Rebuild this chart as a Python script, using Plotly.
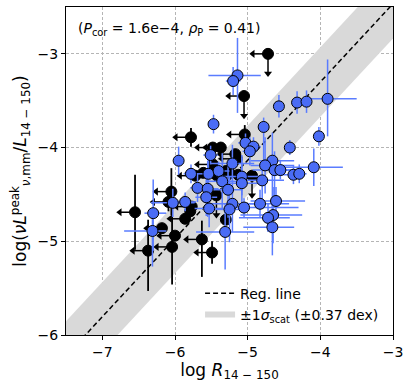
import plotly.graph_objects as go

# ---------------- data ----------------
# detections (blue): x, y, asymmetric errors
blue_x = [-5.14, -5.20, -5.47, -4.57, -4.32, -4.19, -3.90, -4.78, -4.02, -4.42,
          -5.03, -4.92, -4.97, -5.51, -5.95, -5.21, -4.66, -4.76, -4.63, -4.55,
          -4.09, -4.37, -4.29, -5.78, -5.54, -5.40, -5.35, -5.08, -5.08, -4.80,
          -5.69, -5.55, -5.27, -5.57, -5.86, -6.03, -5.21, -5.25, -5.53, -5.05,
          -4.83, -4.61, -4.65, -4.72, -4.66, -5.31, -6.30, -6.31]
blue_y = [-3.23, -3.29, -3.75, -3.56, -3.52, -3.51, -3.48, -3.78, -3.88, -4.00,
          -3.95, -3.99, -4.04, -4.08, -4.14, -4.17, -4.14, -4.19, -4.24, -4.24,
          -4.21, -4.29, -4.28, -4.28, -4.28, -4.25, -4.36, -4.31, -4.38, -4.35,
          -4.43, -4.44, -4.45, -4.53, -4.58, -4.59, -4.60, -4.66, -4.65, -4.64,
          -4.60, -4.57, -4.72, -4.75, -4.85, -4.90, -4.70, -4.89]
blue_xerr_lo = [0.40, 0.10, 0.06, 0.05, 0.08, 0.05, 0.30, 0.05, 0.05, 0.05,
                0.10, 0.10, 0.10, 0.10, 0.05, 0.30, 0.30, 0.20, 0.30, 0.20,
                0.45, 0.30, 0.10, 0.10, 0.20, 0.15, 0.20, 0.30, 0.30, 0.30,
                0.10, 0.15, 0.20, 0.15, 0.15, 0.30, 0.30, 0.20, 0.20, 0.20,
                0.25, 0.35, 0.45, 0.40, 0.40, 0.40, 0.12, 0.39]
blue_xerr_hi = [0.32, 0.10, 0.06, 0.05, 0.08, 0.05, 0.40, 0.05, 0.05, 0.05,
                0.10, 0.10, 0.10, 0.10, 0.05, 0.30, 0.30, 0.40, 0.35, 0.15,
                0.40, 0.15, 0.10, 0.10, 0.20, 0.15, 0.20, 0.30, 0.30, 0.30,
                0.10, 0.15, 0.20, 0.15, 0.15, 0.30, 0.30, 0.20, 0.20, 0.75,
                0.40, 0.40, 0.40, 0.30, 0.30, 0.40, 0.18, 0.19]
blue_yerr_lo = [0.40, 0.15, 0.10, 0.12, 0.12, 0.12, 0.40, 0.45, 0.10, 0.08,
                0.10, 0.10, 0.15, 0.10, 0.15, 0.20, 0.50, 0.30, 0.35, 0.10,
                0.20, 0.10, 0.10, 0.10, 0.20, 0.10, 0.30, 0.20, 0.30, 0.20,
                0.15, 0.30, 0.30, 0.20, 0.10, 0.15, 0.30, 0.35, 0.20, 0.10,
                0.15, 0.15, 0.30, 0.15, 0.30, 0.40, 0.40, 0.38]
blue_yerr_hi = [0.40, 0.15, 0.10, 0.12, 0.12, 0.12, 0.42, 0.10, 0.10, 0.08,
                0.10, 0.10, 0.15, 0.10, 0.15, 0.20, 0.30, 0.30, 0.20, 0.10,
                0.20, 0.10, 0.10, 0.10, 0.20, 0.10, 0.30, 0.20, 0.30, 0.20,
                0.15, 0.30, 0.30, 0.20, 0.10, 0.15, 0.30, 0.35, 0.20, 0.10,
                0.15, 0.15, 0.30, 0.15, 0.30, 0.30, 0.36, 0.20]

# upper limits (black): x, y, y-errors, limit flags
black_x = [-4.72, -5.05, -5.78, -5.04, -5.48, -5.37, -5.17, -5.15, -5.48, -5.61,
           -5.25, -5.13, -4.94, -6.05, -6.09, -5.77, -5.79, -5.86, -5.43, -5.30,
           -6.55, -6.18, -6.00, -6.04, -6.37, -5.63, -5.49, -5.72, -5.42, -5.30]
black_y = [-3.00, -3.45, -3.89, -3.86, -4.00, -4.00, -4.07, -4.12, -4.18, -4.27,
           -4.27, -4.29, -4.30, -4.47, -4.58, -4.63, -4.68, -4.76, -4.51, -4.77,
           -4.69, -4.86, -4.94, -5.06, -5.10, -4.98, -5.12, -4.30, -4.30, -4.25]
black_yerr_lo = [0.00, 0.00, 0.10, 0.10, 0.00, 0.05, 0.00, 0.00, 0.00, 0.00,
                 0.00, 0.00, 0.00, 0.25, 0.10, 0.00, 0.00, 0.00, 0.00, 0.00,
                 0.40, 0.00, 0.00, 0.40, 0.43, 0.40, 0.12, 0.00, 0.00, 0.00]
black_yerr_hi = [0.00, 0.00, 0.10, 0.10, 0.00, 0.05, 0.00, 0.00, 0.00, 0.00,
                 0.00, 0.00, 0.00, 0.25, 0.10, 0.00, 0.00, 0.00, 0.00, 0.00,
                 0.40, 0.00, 0.00, 0.45, 0.33, 0.20, 0.12, 0.00, 0.00, 0.00]
black_xlim = [1, 1, 1, 1, 1, 1, 1, 1, 1, 1,
              0, 0, 0, 1, 1, 1, 0, 1, 0, 0,
              1, 1, 1, 1, 1, 1, 1, 1, 0, 0]
black_ylim = [1, 1, 0, 0, 0, 0, 0, 0, 0, 0,
              0, 0, 1, 0, 0, 0, 0, 0, 1, 0,
              0, 0, 0, 0, 0, 0, 0, 0, 0, 0]

reg_slope = 0.835
reg_intercept = 0.04
sigma_scat = 0.37
x_range = [-7.5, -3.0]
y_range = [-6.0, -2.5]
x_ticks = [-7, -6, -5, -4, -3]
y_ticks = [-6, -5, -4, -3]
arrow_len = 0.25

BLUE = "#4a6cf5"
BLUE_ERR = "#5a7cff"
FONT = "DejaVu Sans"

fig = go.Figure()

# scatter band and regression line
line_y = [reg_slope * x + reg_intercept for x in x_range]
fig.add_trace(go.Scatter(x=x_range, y=[v - sigma_scat for v in line_y], mode="lines",
                         line=dict(width=0, color="#d9d9d9"), showlegend=False,
                         hoverinfo="skip"))
fig.add_trace(go.Scatter(x=x_range, y=[v + sigma_scat for v in line_y], mode="none",
                         fill="tonexty", fillcolor="#d9d9d9",
                         name="±1<i>σ</i><sub>scat</sub> (±0.37 dex)", legendrank=2))
fig.add_trace(go.Scatter(x=x_range, y=line_y, mode="lines",
                         line=dict(color="black", width=1.5, dash="5px,3px"),
                         name="Reg. line", legendrank=1))

# arrows for upper limits
ax_x, ax_y, hl_x, hl_y, hd_x, hd_y = [], [], [], [], [], []
for x, y, fx, fy in zip(black_x, black_y, black_xlim, black_ylim):
    if fx:
        ax_x += [x, x - arrow_len + 0.03, None]
        ax_y += [y, y, None]
        hl_x.append(x - arrow_len + 0.04)
        hl_y.append(y)
    if fy:
        ax_x += [x, x, None]
        ax_y += [y, y - arrow_len + 0.03, None]
        hd_x.append(x)
        hd_y.append(y - arrow_len + 0.04)
fig.add_trace(go.Scatter(x=ax_x, y=ax_y, mode="lines", line=dict(color="black", width=1.5),
                         showlegend=False, hoverinfo="skip"))
fig.add_trace(go.Scatter(x=hl_x, y=hl_y, mode="markers",
                         marker=dict(symbol="triangle-left", size=7, color="black"),
                         showlegend=False, hoverinfo="skip"))
fig.add_trace(go.Scatter(x=hd_x, y=hd_y, mode="markers",
                         marker=dict(symbol="triangle-down", size=7, color="black"),
                         showlegend=False, hoverinfo="skip"))

# black points
fig.add_trace(go.Scatter(x=black_x, y=black_y, mode="markers",
                         marker=dict(size=11, color="black", line=dict(color="black", width=1)),
                         error_y=dict(type="data", array=black_yerr_hi, arrayminus=black_yerr_lo,
                                      color="black", thickness=1.8, width=0),
                         showlegend=False))
# blue points
fig.add_trace(go.Scatter(x=blue_x, y=blue_y, mode="markers",
                         marker=dict(size=11, color=BLUE, line=dict(color="black", width=1)),
                         error_x=dict(type="data", array=blue_xerr_hi, arrayminus=blue_xerr_lo,
                                      color=BLUE_ERR, thickness=1.5, width=0),
                         error_y=dict(type="data", array=blue_yerr_hi, arrayminus=blue_yerr_lo,
                                      color=BLUE_ERR, thickness=1.5, width=0),
                         showlegend=False))

axis_common = dict(showline=True, linecolor="black", linewidth=1.2, mirror=True,
                   ticks="outside", ticklen=4, tickcolor="black",
                   showgrid=True, gridcolor="#b5b5b5", griddash="3px,2px", gridwidth=0.8,
                   zeroline=False, automargin=False,
                   tickfont=dict(size=14, color="black", family=FONT))

fig.update_layout(
    width=414, height=390,
    margin=dict(l=66, r=21, t=7, b=55),
    plot_bgcolor="white", paper_bgcolor="white",
    font=dict(family=FONT, color="black"),
    xaxis=dict(range=x_range, tickvals=x_ticks, **axis_common,
               title=dict(text="log <i>R</i><sub>14 − 150</sub>", font=dict(size=17), standoff=0)),
    yaxis=dict(range=y_range, tickvals=y_ticks, **axis_common,
               title=dict(text="log(<i>νL</i><sup>peak</sup><sub><i>ν</i>,mm</sub>/<i>L</i><sub>14 − 150</sub>)",
                          font=dict(size=17), standoff=6)),
    legend=dict(x=0.41, y=0.175, xanchor="left", yanchor="top", bgcolor="rgba(255,255,255,0)",
                traceorder="normal",
                font=dict(size=14, family=FONT), itemwidth=30, tracegroupgap=2),
    annotations=[dict(text="(<i>P</i><sub>cor</sub> = 1.6e−4, <i>ρ</i><sub>P</sub> = 0.41)",
                      xref="paper", yref="paper", x=0.03, y=0.965, xanchor="left", yanchor="top",
                      showarrow=False, font=dict(size=14, family=FONT))],
)

fig.write_html("out.html", config={"displayModeBar": False},
               post_script="document.body.style.margin='0';document.body.style.overflow='hidden';")
